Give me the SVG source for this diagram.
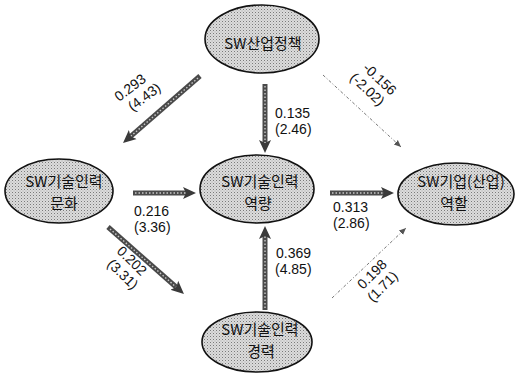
<svg xmlns="http://www.w3.org/2000/svg" width="516" height="375" viewBox="0 0 516 375">
<defs>
<pattern id="dots" width="3" height="3" patternUnits="userSpaceOnUse">
<rect width="3" height="3" fill="#dcdcdc"/>
<rect width="1" height="1" fill="#7a7a7a"/>
<rect x="1.5" y="1.5" width="1" height="1" fill="#a8a8a8"/>
</pattern>
<marker id="head" markerUnits="userSpaceOnUse" markerWidth="14" markerHeight="14" viewBox="0 0 14 14" refX="4" refY="7" orient="auto">
<path d="M0,1 L13,7 L0,13 L3,7 z" fill="#3a3a3a"/>
</marker>
<marker id="thin" markerUnits="userSpaceOnUse" markerWidth="8" markerHeight="8" viewBox="0 0 8 8" refX="7" refY="4" orient="auto">
<path d="M0,1 L7,4 L0,7 z" fill="#555"/>
</marker>
</defs>
<style>
.node ellipse{fill:url(#dots);stroke:#111;stroke-width:1.6}
.node text{font-family:"Noto Sans CJK KR","Noto Sans",sans-serif;font-size:15px;fill:#111;text-anchor:middle}
.thick{stroke:#4a4a4a;stroke-width:5;fill:none;marker-end:url(#head)}
.tex{stroke:#c8c8c8;stroke-width:1.4;stroke-dasharray:1.5 2;fill:none}
.dot{stroke:#777;stroke-width:1;stroke-dasharray:3 2 1 2;fill:none;marker-end:url(#thin)}
.lbl{font-family:"Liberation Sans",Arial,sans-serif;font-size:14px;fill:#111}
</style>
<g id="connectors">
<line class="thick" x1="200" y1="76" x2="129.8" y2="137.1"/>
<line class="tex" x1="198" y1="78" x2="131" y2="136"/>
<line class="thick" x1="265" y1="84" x2="265" y2="144"/>
<line class="tex" x1="265" y1="86" x2="265" y2="143"/>
<line class="thick" x1="133" y1="193" x2="187" y2="193"/>
<line class="tex" x1="135" y1="193" x2="186" y2="193"/>
<line class="thick" x1="108" y1="227" x2="177.2" y2="288"/>
<line class="tex" x1="110" y1="229" x2="176" y2="287"/>
<line class="thick" x1="330" y1="193" x2="385" y2="193"/>
<line class="tex" x1="332" y1="193" x2="384" y2="193"/>
<line class="thick" x1="265" y1="310" x2="265" y2="235"/>
<line class="tex" x1="265" y1="308" x2="265" y2="236"/>
<line class="dot" x1="323" y1="75" x2="401" y2="147"/>
<line class="dot" x1="332" y1="298" x2="406" y2="228"/>
<text class="lbl" transform="translate(119,102) rotate(-37)"><tspan x="0" y="0">0.293</tspan><tspan x="5" y="16">(4.43)</tspan></text>
<text class="lbl"><tspan x="275" y="118">0.135</tspan><tspan x="275" y="134">(2.46)</tspan></text>
<text class="lbl" transform="translate(362,69) rotate(43)"><tspan x="0" y="0">-0.156</tspan><tspan x="-3" y="16">(-2.02)</tspan></text>
<text class="lbl"><tspan x="134" y="216">0.216</tspan><tspan x="134" y="232">(3.36)</tspan></text>
<text class="lbl" transform="translate(116,252) rotate(44)"><tspan x="0" y="0">0.202</tspan><tspan x="2" y="16">(3.31)</tspan></text>
<text class="lbl"><tspan x="333" y="212">0.313</tspan><tspan x="333" y="228">(2.86)</tspan></text>
<text class="lbl"><tspan x="276" y="258">0.369</tspan><tspan x="275" y="274">(4.85)</tspan></text>
<text class="lbl" transform="translate(363,290) rotate(-45)"><tspan x="0" y="0">0.198</tspan><tspan x="-2" y="16">(1.71)</tspan></text>
</g>
<g id="policy" class="node">
<ellipse cx="262" cy="39" rx="57" ry="34"/>
<text x="263" y="49">SW산업정책</text>
</g>
<g id="culture" class="node">
<ellipse cx="59" cy="191" rx="54" ry="32"/>
<text x="64" y="187">SW기술인력</text>
<text x="64" y="209">문화</text>
</g>
<g id="competency" class="node">
<ellipse cx="257" cy="189" rx="57" ry="34"/>
<text x="260" y="187">SW기술인력</text>
<text x="258" y="209">역량</text>
</g>
<g id="role" class="node">
<ellipse cx="456" cy="194" rx="58" ry="31"/>
<text x="461" y="187">SW기업(산업)</text>
<text x="454" y="209">역할</text>
</g>
<g id="career" class="node">
<ellipse cx="257" cy="342" rx="55" ry="30"/>
<text x="260" y="335">SW기술인력</text>
<text x="261" y="357">경력</text>
</g>
</svg>
